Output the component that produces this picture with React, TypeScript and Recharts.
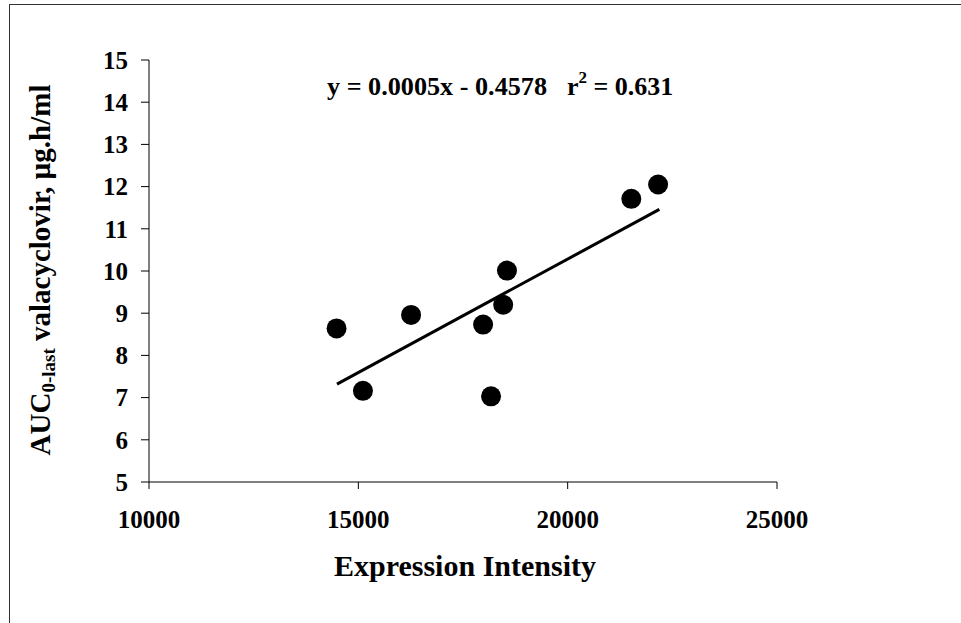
import { ReferenceLine, Scatter, ScatterChart, XAxis, YAxis } from "recharts";

const expression = [14480, 15110, 16260, 17980, 18170, 18460, 18550, 21520, 22160];
const auc = [8.64, 7.16, 8.96, 8.73, 7.03, 9.2, 10.01, 11.71, 12.05];
const trendX = [14490, 22190];
const trendY = [7.32, 11.46];
const xTicks = [10000, 15000, 20000, 25000];
const yTicks = [5, 6, 7, 8, 9, 10, 11, 12, 13, 14, 15];

const points = expression.map((x, i) => ({ x, y: auc[i] }));

const FONT = "'Liberation Serif', 'Times New Roman', serif";
const tickStyle = { fontSize: 25, fontWeight: 700, fill: "#000", fontFamily: FONT };

const Dot = (props: any) => <circle cx={props.cx} cy={props.cy} r={10} fill="#000" />;

export default function App() {
  return (
    <div style={{ position: "absolute", left: 0, top: 0, width: 961, height: 623, background: "#fff" }}>
      <ScatterChart width={961} height={623} margin={{ top: 60, right: 184, bottom: 81, left: 29 }}>
        <XAxis
          type="number"
          dataKey="x"
          domain={[10000, 25000]}
          ticks={xTicks}
          height={60}
          stroke="#000"
          tickSize={7}
          tickMargin={21}
          tick={tickStyle}
          allowDataOverflow
        />
        <YAxis
          type="number"
          dataKey="y"
          domain={[5, 15]}
          ticks={yTicks}
          width={120}
          stroke="#000"
          tickSize={8}
          tickMargin={13}
          tick={tickStyle}
          allowDataOverflow
        />
        <ReferenceLine
          segment={[
            { x: trendX[0], y: trendY[0] },
            { x: trendX[1], y: trendY[1] },
          ]}
          stroke="#000"
          strokeWidth={3}
        />
        <Scatter data={points} shape={Dot} isAnimationActive={false} />
      </ScatterChart>
      <svg
        width={961}
        height={623}
        style={{ position: "absolute", left: 0, top: 0, pointerEvents: "none" }}
        fontFamily={FONT}
        fontWeight={700}
      >
        <line x1={9.5} y1={4} x2={9.5} y2={623} stroke="#333" />
        <line x1={9} y1={4.5} x2={961} y2={4.5} stroke="#333" />
        <text x={327} y={95} fontSize={26} textLength={220} lengthAdjust="spacingAndGlyphs">
          y = 0.0005x - 0.4578
        </text>
        <text x={567} y={95} fontSize={26}>
          r<tspan fontSize={17} dy={-12}>2</tspan>
          <tspan dy={12}> = 0.631</tspan>
        </text>
        <text x={465} y={576} fontSize={30} textAnchor="middle">
          Expression Intensity
        </text>
        <text transform="translate(50 270) rotate(-90)" fontSize={29} textAnchor="middle">
          AUC<tspan fontSize={19} dy={5}>0-last</tspan>
          <tspan dy={-5}> valacyclovir, µg.h/ml</tspan>
        </text>
      </svg>
    </div>
  );
}
